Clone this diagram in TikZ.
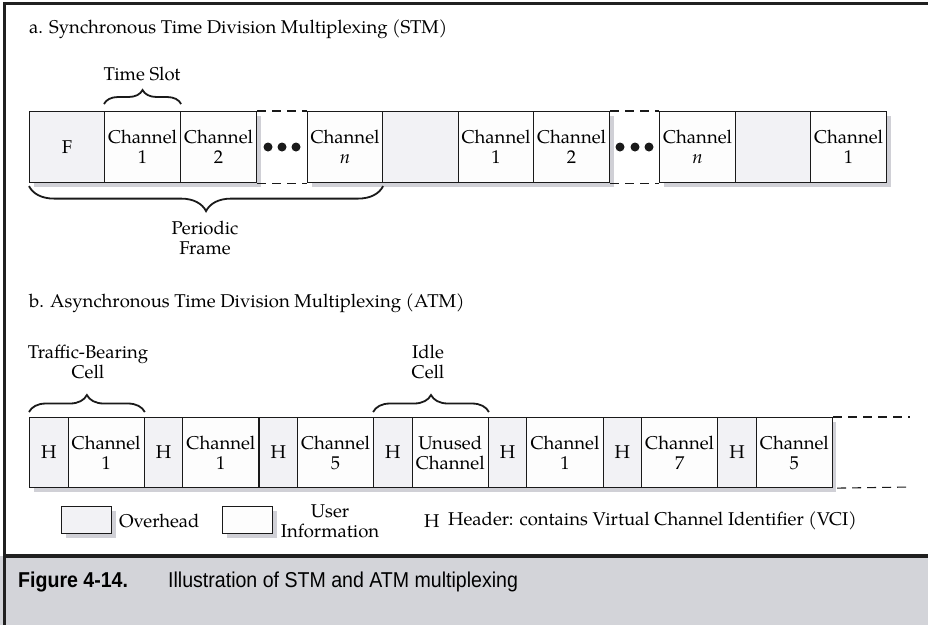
\documentclass[tikz,border=0pt]{standalone}
\usepackage{fontspec}
\setmainfont{TeX Gyre Pagella}
\newfontfamily\capfont[FakeStretch=0.91]{Liberation Sans}
\usetikzlibrary{shadows,decorations.pathreplacing}

\definecolor{linecol}{HTML}{1A1A1A}
\definecolor{ovhfill}{HTML}{F2F2F5}
\definecolor{usrfill}{HTML}{FDFDFD}
\definecolor{shadowcol}{HTML}{D0D0D6}
\definecolor{capgray}{HTML}{D3D4D9}
\definecolor{framecol}{HTML}{202020}

\newcommand\bodyfs{\fontsize{18.5}{20}\selectfont}
\newcommand\capfs{\fontsize{21.5}{24}\selectfont}

\tikzset{
  cellbase/.style={draw=linecol, line width=1.1pt, inner sep=0pt, anchor=north west,
    align=center, font=\bodyfs,
    drop shadow={shadow xshift=4pt, shadow yshift=-4pt, fill=shadowcol, opacity=1}},
  ovh/.style={cellbase, fill=ovhfill},
  usr/.style={cellbase, fill=usrfill},
  label/.style={inner sep=0pt, align=center, font=\bodyfs},
  gapline/.style={draw=linecol, line width=1.1pt, dash pattern=on 9pt off 6pt},
  curly/.style={draw=linecol, line width=1.8pt, decorate},
  dotmark/.style={circle, fill=linecol, inner sep=0pt, minimum size=9pt}
}

\begin{document}
\begin{tikzpicture}[x=1pt, y=-1pt]
\useasboundingbox (0,0) rectangle (928,625);

% caption band and outer frame
\fill[capgray] (0,556) rectangle (928,625);
\draw[framecol, line width=4pt] (3,556) -- (928,556);
\draw[framecol, line width=2.5pt] (3,3.5) -- (928,3.5);
\draw[framecol, line width=2.5pt] (4.5,2) -- (4.5,625);

% ---------- a. STM ----------
\node[label, anchor=west] (titlea) at (29,29) {a. Synchronous Time Division Multiplexing (STM)};

\begin{scope}[every node/.append style={minimum height=71pt}]
\node[ovh, minimum width=75pt] (f)   at (29,111)  {F};
\node[usr, minimum width=76pt] (s1)  at (104,111) {Channel\\1};
\node[usr, minimum width=76pt] (s2)  at (180,111) {Channel\\2};
\node[usr, minimum width=75pt] (sn)  at (307,111) {Channel\\\textit{n}};
\node[ovh, minimum width=76pt] (b1)  at (382,111) {};
\node[usr, minimum width=75pt] (t1)  at (458,111) {Channel\\1};
\node[usr, minimum width=76pt] (t2)  at (533,111) {Channel\\2};
\node[usr, minimum width=76pt] (tn)  at (659,111) {Channel\\\textit{n}};
\node[ovh, minimum width=75pt] (b2)  at (735,111) {};
\node[usr, minimum width=76pt] (u1)  at (810,111) {Channel\\1};
\end{scope}

% dashed gaps with ellipsis dots
\draw[gapline] (s2.north east) -- (sn.north west);
\draw[gapline] (s2.south east) -- (sn.south west);
\draw[gapline] (t2.north east) -- (tn.north west);
\draw[gapline] (t2.south east) -- (tn.south west);
\node[dotmark] (da1) at (268,147) {};
\node[dotmark] (da2) at (282,147) {};
\node[dotmark] (da3) at (296,147) {};
\node[dotmark] (db1) at (620,147) {};
\node[dotmark] (db2) at (635,147) {};
\node[dotmark] (db3) at (649,147) {};

% braces
\draw[curly, decoration={brace, amplitude=14pt}]
  ([yshift=7pt]s1.north west) -- ([yshift=7pt]s1.north east);
\node[label] (tslot) at (142,74) {Time Slot};
\draw[curly, decoration={brace, amplitude=25pt}]
  ([yshift=-3pt]sn.south east) -- ([yshift=-3pt]f.south west);
\node[label] (pframe) at (205,238) {Periodic\\Frame};

% ---------- b. ATM ----------
\node[label, anchor=west] (titleb) at (29,303) {b. Asynchronous Time Division Multiplexing (ATM)};

\foreach \i/\lab in {0/{Channel\\1},1/{Channel\\1},2/{Channel\\5},3/{Unused\\Channel},
                     4/{Channel\\1},5/{Channel\\7},6/{Channel\\5}}{
  \node[ovh, minimum width=38.5pt, minimum height=70pt] (h\i) at ({29+114.7*\i},417) {H};
  \node[usr, minimum width=76.2pt, minimum height=70pt] (c\i) at ({67.5+114.7*\i},417) {\lab};
}

\coordinate (tailtop) at (910,417);
\coordinate (tailbot) at (910,487);
\draw[gapline] (c6.north east) -- (tailtop);
\draw[gapline] ([xshift=4pt]c6.south east) -- (tailbot);

\draw[curly, decoration={brace, amplitude=17pt}]
  ([yshift=5pt]h0.north west) -- ([yshift=5pt]c0.north east);
\node[label] (traffic) at (88,362) {Traffic-Bearing\\Cell};
\draw[curly, decoration={brace, amplitude=17pt}]
  ([yshift=5pt]h3.north west) -- ([yshift=5pt]c3.north east);
\node[label] (idle) at (428,362) {Idle\\Cell};

% ---------- legend ----------
\node[ovh, minimum width=50pt, minimum height=27pt] (lgo) at (61,506) {};
\node[label, anchor=west] (lgotext) at (119,521) {Overhead};
\node[usr, minimum width=50pt, minimum height=27pt] (lgu) at (222,506) {};
\node[label] (lgutext) at (330,521) {User\\Information};
\node[label, anchor=west] (lgh) at (424,521) {H};
\node[label, anchor=west] (lghtext) at (448,521) {Header: contains Virtual Channel Identifier (VCI)};

% ---------- caption ----------
\node[inner sep=0pt, anchor=west, font=\capfont\capfs\bfseries] (capnum) at (18,582) {Figure 4-14.};
\node[inner sep=0pt, anchor=west, font=\capfont\capfs] (captext) at (168,582) {Illustration of STM and ATM multiplexing};
\end{tikzpicture}
\end{document}
